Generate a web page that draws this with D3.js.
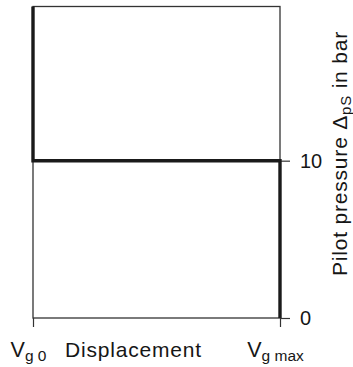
<!DOCTYPE html>
<html><head><meta charset="utf-8">
<script src="https://cdn.jsdelivr.net/npm/d3@7"></script>
<style>
html,body{margin:0;padding:0;background:#fff;}
svg{display:block;font-family:"Liberation Sans",Arial,Helvetica,sans-serif;}
</style></head>
<body><svg id="c" width="353" height="367"></svg>
<script>
// Data
const displacement = [0, 0, 1, 1];          // fraction of Vg max (Vg0 → Vgmax)
const pilotPressure = [19.8, 10, 10, 0];    // bar
const yTicks = [0, 10];
const xTicks = [0, 1];
const yTop = 19.8;

const svg = d3.select("#c");
const x = d3.scaleLinear().domain([0, 1]).range([33, 280]);
const y = d3.scaleLinear().domain([0, yTop]).range([318, 6.5]);

const thin = "#333", thick = "#1a1a1a", ink = "#161616";

// frame (thin)
svg.append("rect")
  .attr("x", x(0)).attr("y", y(yTop))
  .attr("width", x(1) - x(0)).attr("height", y(0) - y(yTop))
  .attr("fill", "none").attr("stroke", thin).attr("stroke-width", 1.3);

// right axis
const ra = svg.append("g").attr("transform", `translate(${x(1)},0)`)
  .call(d3.axisRight(y).tickValues(yTicks).tickSize(10).tickPadding(10).tickFormat(d3.format("d")));
ra.select(".domain").remove();
ra.selectAll(".tick line").attr("stroke", thin).attr("stroke-width", 1.2);
ra.selectAll(".tick text").attr("fill", ink).style("font-size", "20px")
  .style("font-family", "'Liberation Sans',Arial,sans-serif");

// bottom ticks
const ba = svg.append("g").attr("transform", `translate(0,${y(0)})`)
  .call(d3.axisBottom(x).tickValues(xTicks).tickSize(9).tickFormat(""));
ba.select(".domain").remove();
ba.selectAll(".tick line").attr("stroke", thin).attr("stroke-width", 1.2);

// characteristic curve (thick)
const line = d3.line().x((d, i) => x(displacement[i])).y(d => y(d));
svg.append("path").datum(pilotPressure)
  .attr("d", line).attr("fill", "none")
  .attr("stroke", thick).attr("stroke-width", 3.4).attr("stroke-linejoin", "miter").attr("stroke-linecap", "butt");

// bottom labels
function subLabel(px, main, sub) {
  const t = svg.append("text").attr("x", px).attr("y", 356.5)
    .attr("text-anchor", "middle").attr("fill", ink).style("font-size", "21.5px");
  t.append("tspan").text(main);
  t.append("tspan").attr("dy", 4.5).style("font-size", "15.5px").text(sub);
  return t;
}
subLabel(x(0) - 4.5, "V", "g 0");
subLabel(x(1) - 4.5, "V", "g max");
svg.append("text").attr("x", 133.5).attr("y", 356.5).attr("text-anchor", "middle")
  .attr("fill", ink).style("font-size", "21px").style("letter-spacing", "0.8px").text("Displacement");

// right axis title
const yl = svg.append("text").attr("transform", `translate(347,153.5) rotate(-90)`)
  .attr("text-anchor", "middle").attr("fill", ink).style("font-size", "21px").style("letter-spacing", "0.8px");
yl.append("tspan").text("Pilot pressure \u0394");
yl.append("tspan").attr("dy", 4).style("font-size", "15px").text("pS");
yl.append("tspan").attr("dy", -4).text(" in bar");
</script></body></html>
